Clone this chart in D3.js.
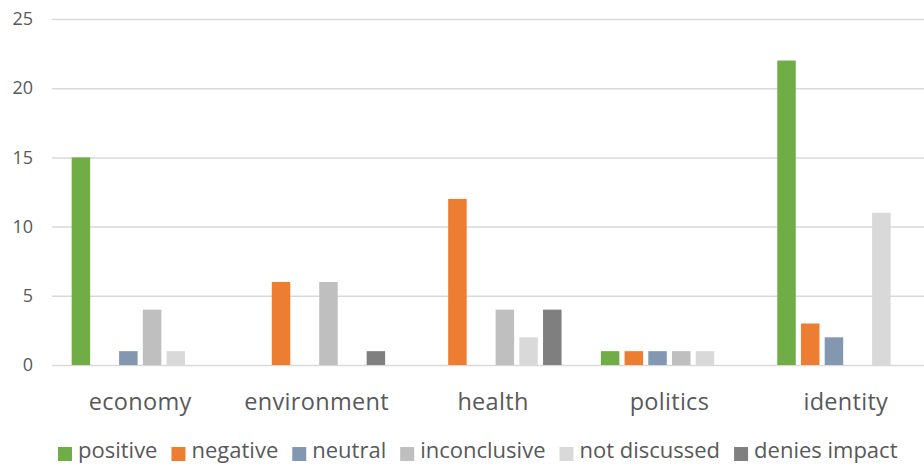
<!DOCTYPE html>
<html>
<head>
<meta charset="utf-8">
<script src="https://cdn.jsdelivr.net/npm/d3@7"></script>
<style>
  html, body { margin: 0; padding: 0; background: #fff; }
  svg { display: block; font-family: "Open Sans", sans-serif; }
</style>
</head>
<body>
<svg id="chart" width="924" height="468"></svg>
<script>
const categories = ["economy", "environment", "health", "politics", "identity"];
const seriesNames = ["positive", "negative", "neutral", "inconclusive", "not discussed", "denies impact"];
const positive     = [15, 0, 0, 1, 22];
const negative     = [0, 6, 12, 1, 3];
const neutral      = [1, 0, 0, 1, 2];
const inconclusive = [4, 6, 4, 1, 0];
const notDiscussed = [1, 0, 2, 1, 11];
const deniesImpact = [0, 1, 4, 0, 0];
const yTicks = [0, 5, 10, 15, 20, 25];
const colors = ["#70AD47", "#ED7D31", "#8497B0", "#BFBFBF", "#D9D9D9", "#7F7F7F"];

const seriesValues = [positive, negative, neutral, inconclusive, notDiscussed, deniesImpact];

const svg = d3.select("#chart");
const textColor = "#595959";

const x0 = d3.scaleBand().domain(categories).range([52, 934]).paddingInner(0.223).paddingOuter(0.1115);
const x1 = d3.scaleBand().domain(seriesNames).range([0, x0.bandwidth()]).paddingInner(0.22);
const y = d3.scaleLinear().domain([0, 25]).range([365, 19]);

// gridlines
const yAxis = d3.axisLeft(y).tickValues(yTicks).tickSize(-(934 - 52)).tickPadding(19).tickFormat(d3.format("d"));
const gAxis = svg.append("g").attr("transform", "translate(52,0)").call(yAxis);
gAxis.select(".domain").remove();
gAxis.selectAll(".tick line").attr("stroke", "#D9D9D9").attr("stroke-width", 1.5);
gAxis.selectAll(".tick text").attr("fill", textColor).style("font-size", "18px").style("font-family", "'Open Sans', sans-serif");

// bars
const groups = svg.append("g").selectAll("g")
  .data(categories)
  .join("g")
  .attr("transform", d => `translate(${x0(d)},0)`);

groups.selectAll("rect")
  .data((c, ci) => seriesNames.map((s, si) => ({ s, si, v: seriesValues[si][ci] })))
  .join("rect")
  .filter(d => d.v > 0)
  .attr("x", d => x1(d.s))
  .attr("width", x1.bandwidth())
  .attr("y", d => y(d.v))
  .attr("height", d => y(0) - y(d.v))
  .attr("fill", d => colors[d.si]);

// x axis category labels
const xAxis = d3.axisBottom(x0).tickSize(0).tickPadding(0);
const gx = svg.append("g").attr("transform", `translate(0,${y(0)})`).call(xAxis);
gx.select(".domain").remove();
gx.selectAll(".tick text")
  .attr("dy", null)
  .attr("y", 45)
  .attr("fill", textColor)
  .style("font-size", "23.5px")
  .style("letter-spacing", "0.3px")
  .style("font-family", "'Open Sans', sans-serif");

// legend
const legend = svg.append("g");
let lx = 58;
seriesNames.forEach((name, i) => {
  legend.append("rect").attr("x", lx).attr("y", 447).attr("width", 14).attr("height", 14).attr("fill", colors[i]);
  const t = legend.append("text").attr("x", lx + 20).attr("y", 457.5)
    .attr("fill", textColor).style("font-size", "22px").text(name);
  lx += 20 + t.node().getComputedTextLength() + 14;
});
</script>
</body>
</html>
